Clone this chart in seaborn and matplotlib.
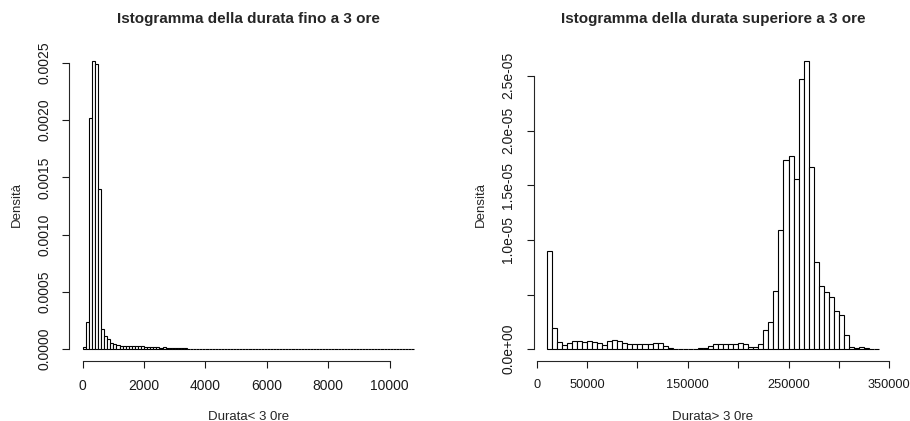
import numpy as np
import pandas as pd
import matplotlib
matplotlib.use("Agg")
import matplotlib.pyplot as plt
import seaborn as sns

# durata fino a 3 ore: classi di 100 s da 0 a 10800, densità
breaks_short = np.arange(0, 10900, 100)
dens_short = [
    0.000020, 0.000240, 0.002020, 0.002520, 0.002490, 0.001400, 0.000180, 0.000113, 0.000087, 0.000058,
    0.000042, 0.000036, 0.000032, 0.000030, 0.000028, 0.000027, 0.000027, 0.000025, 0.000028, 0.000024,
    0.000022, 0.000020, 0.000019, 0.000018, 0.000016, 0.000014, 0.000020, 0.000015, 0.000012, 0.000012,
    0.000010, 0.000010, 0.000009, 0.000008, 0.000003, 0.000003, 0.000003, 0.000002, 0.000002, 0.000002,
    0.000002, 0.000002, 0.000002, 0.000002, 0.000002, 0.000002, 0.000002, 0.000002, 0.000002, 0.000002,
    0.000002, 0.000002, 0.000002, 0.0, 0.0, 0.000003, 0.0, 0.0, 0.000003, 0.0,
    0.0, 0.0, 0.0, 0.0, 0.0, 0.0, 0.0, 0.0, 0.0, 0.000003,
    0.000003, 0.000003, 0.0, 0.0, 0.0, 0.0, 0.0, 0.0, 0.0, 0.0,
    0.0, 0.0, 0.0, 0.0, 0.0, 0.0, 0.0, 0.0, 0.0, 0.0,
    0.0, 0.0, 0.0, 0.0, 0.0, 0.0, 0.0, 0.0, 0.0, 0.0,
    0.0, 0.0, 0.0, 0.0, 0.0, 0.0, 0.0, 0.0,
]

# durata superiore a 3 ore: classi di 5000 s da 10000 a 340000, densità (x 1e-6)
breaks_long = np.arange(10000, 345000, 5000)
dens_long_e6 = [
    8.94, 1.92, 0.64, 0.43, 0.55, 0.73, 0.76, 0.70, 0.73, 0.64,
    0.55, 0.43, 0.76, 0.88, 0.79, 0.55, 0.46, 0.46, 0.46, 0.46,
    0.49, 0.58, 0.58, 0.30, 0.08, 0.0, 0.0, 0.0, 0.0, 0.0,
    0.15, 0.15, 0.27, 0.49, 0.46, 0.49, 0.46, 0.46, 0.58, 0.52,
    0.21, 0.21, 0.52, 1.80, 2.53, 5.37, 10.95, 17.3, 17.7, 15.6,
    24.7, 26.4, 16.7, 7.97, 5.74, 5.25, 4.79, 3.54, 3.17, 1.34,
    0.21, 0.15, 0.24, 0.15, 0.06, 0.06,
]

xticks_short = [0, 2000, 4000, 6000, 8000, 10000]
yticks_short = [0.0, 0.0005, 0.0010, 0.0015, 0.0020, 0.0025]
ylabels_short = ["0.0000", "0.0005", "0.0010", "0.0015", "0.0020", "0.0025"]
xticks_long = [0, 50000, 100000, 150000, 200000, 250000, 300000, 350000]
xlabels_long = ["0", "50000", "", "150000", "", "250000", "", "350000"]
yticks_long = [0.0, 5e-6, 1e-5, 1.5e-5, 2e-5, 2.5e-5]
ylabels_long = ["0.0e+00", "", "1.0e-05", "1.5e-05", "2.0e-05", "2.5e-05"]

sns.set_style("ticks")
plt.rcParams["font.family"] = ["Liberation Sans", "DejaVu Sans"]

fig = plt.figure(figsize=(9.1, 4.21), dpi=100)
ax1 = fig.add_axes([0.0763, 0.143, 0.3935, 0.7406])
ax2 = fig.add_axes([0.5863, 0.143, 0.3944, 0.7406])


def r_hist(ax, breaks, dens, title, xlabel, xticks, xlabels, yticks, ylabels, xsize):
    df = pd.DataFrame({"mid": (breaks[:-1] + breaks[1:]) / 2, "dens": dens})
    sns.histplot(data=df, x="mid", weights="dens", bins=list(breaks), stat="count",
                 color="white", edgecolor="black", linewidth=0.8, alpha=1, ax=ax)
    lo, hi = breaks[0], breaks[-1]
    ymax = max(dens)
    ax.set_xlim(lo - 0.04 * (hi - lo), hi + 0.04 * (hi - lo))
    ax.set_ylim(-0.04 * ymax, ymax * 1.04)
    for s in ["top", "right"]:
        ax.spines[s].set_visible(False)
    ax.spines["bottom"].set_bounds(xticks[0], xticks[-1])
    ax.spines["left"].set_bounds(yticks[0], yticks[-1])
    for s in ["bottom", "left"]:
        ax.spines[s].set_linewidth(0.8)
    ax.set_xticks(xticks, xlabels)
    ax.set_yticks(yticks, ylabels, rotation=90, va="center")
    ax.tick_params(length=5, width=0.8, labelsize=10, pad=8, colors="#1a1a1a")
    ax.tick_params(axis="x", labelsize=xsize)
    ax.set_title(title, fontsize=11, fontweight="bold", y=1.083, pad=0)
    ax.set_xlabel(xlabel, fontsize=9.5)
    ax.set_ylabel("Densità", fontsize=9.5)
    ax.xaxis.set_label_coords(0.5, -0.16)
    ax.yaxis.set_label_coords(-0.13, 0.5)


r_hist(ax1, breaks_short, dens_short, "Istogramma della durata fino a 3 ore",
       "Durata< 3 0re", xticks_short, [str(t) for t in xticks_short],
       yticks_short, ylabels_short, 10)
r_hist(ax2, breaks_long, [d * 1e-6 for d in dens_long_e6],
       "Istogramma della durata superiore a 3 ore", "Durata> 3 0re",
       xticks_long, xlabels_long, yticks_long, ylabels_long, 9.2)

fig.savefig("out.png", dpi=100)
